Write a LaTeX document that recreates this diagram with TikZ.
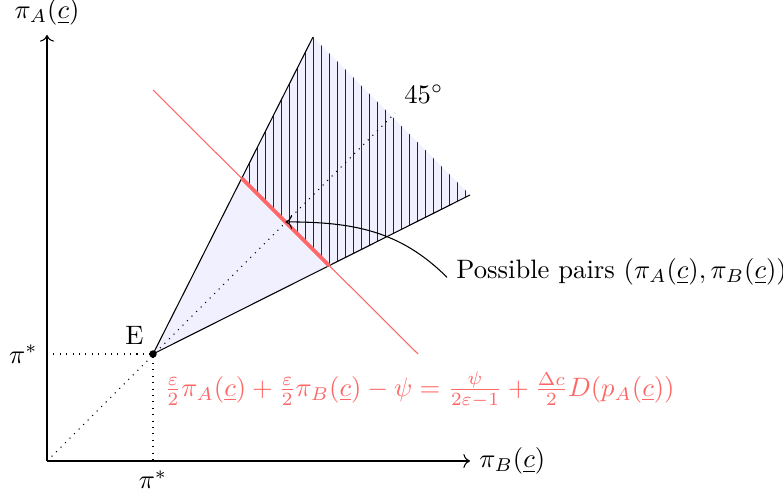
\documentclass[tikz,border=0pt]{standalone}
\usepackage{amsmath,amssymb}
\usetikzlibrary{arrows.meta,positioning}

\begin{document}
\begin{tikzpicture}[
  x=0.0132cm, y=0.0132cm,
  region/.style={fill=blue!6},
  hatch/.style={line width=0.3pt, black!85},
  guide/.style={dotted},
  redline/.style={red!60},
  >={To}]
\useasboundingbox (-47,-33) rectangle (736,461);
\coordinate (O) at (0,0);
\coordinate (E) at (106,107);
\coordinate (U) at (266,424);
\coordinate (L) at (423,266);
\coordinate (P1) at (194.7,282.8);
\coordinate (P2) at (282.2,195.4);
\coordinate (M) at (238.5,239.1);
\coordinate (Ea) at (0,107);
\coordinate (Eb) at (106,0);
% cone of possible pairs
\fill[region] (E) -- (U) -- (L) -- cycle;
\begin{scope}
  \clip (P1) -- (U) -- (L) -- (P2) -- cycle;
  \foreach \x in {202,210,...,418}
    \draw[hatch] (\x,180) -- (\x,430);
\end{scope}
\draw (U) -- (E) -- (L);
% axes
\draw[->] (O) -- (0,426) node[above] (ya) {$\pi_A(\underline{c})$};
\draw[->] (O) -- (423,0) node[right] (xa) {$\pi_B(\underline{c})$};
% guides
\draw[guide] (O) -- (348,348) node[above right] (deg) {$45^\circ$};
\draw[guide] (Ea) -- (E) -- (Eb);
\node[left] (pya) at (Ea) {$\pi^*$};
\node[below] (pxa) at (Eb) {$\pi^*$};
\fill (E) circle (1.4pt);
\node[above left] (elab) at (E) {E};
% iso line
\draw[redline] (106,371) -- (371,107);
\draw[redline, line width=1.4pt] (P1) -- (P2);
\node[red!60, anchor=north west] (cond) at (108,99)
  {$\frac{\varepsilon}{2}\pi_A(\underline{c})+\frac{\varepsilon}{2}\pi_B(\underline{c})-\psi=\frac{\psi}{2\varepsilon-1}+\frac{\Delta c}{2}D(p_A(\underline{c}))$};
\node[anchor=west] (pairs) at (400,189) {Possible pairs $(\pi_A(\underline{c}),\pi_B(\underline{c}))$};
\draw[->] ([yshift=-2pt]pairs.west) to[out=135, in=0] (M);
\end{tikzpicture}
\end{document}
